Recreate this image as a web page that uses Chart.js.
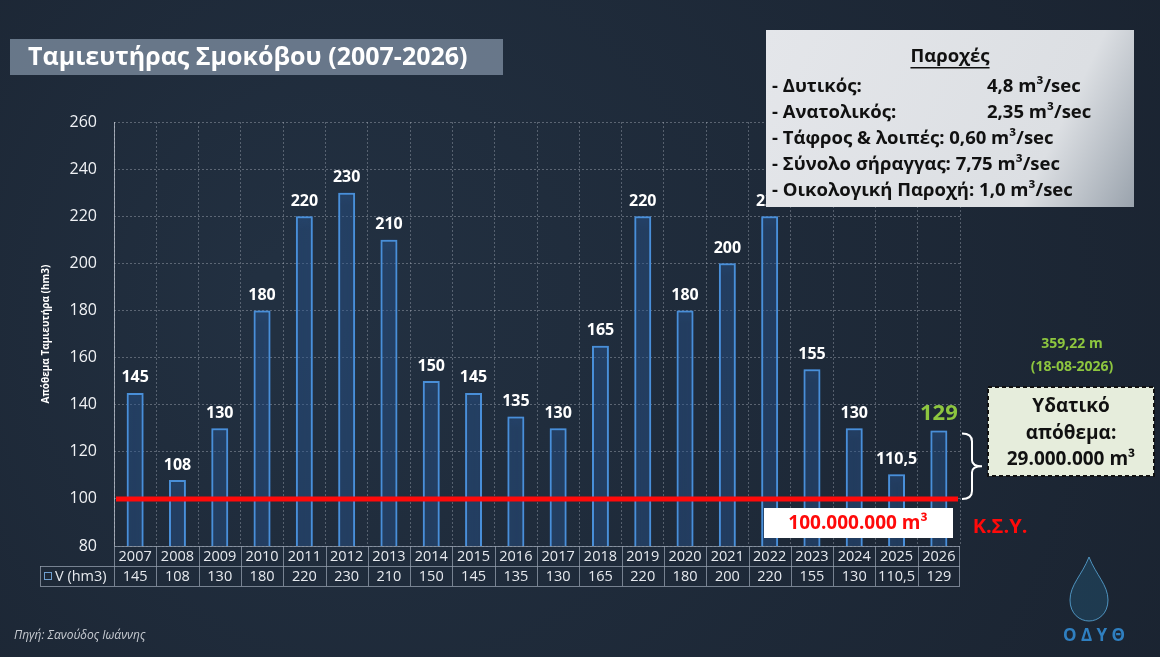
<!DOCTYPE html>
<html>
<head>
<meta charset="utf-8">
<script src="https://cdn.jsdelivr.net/npm/chart.js@4"></script>
<style>
  html, body { margin: 0; padding: 0; background: #1d2734; }
  #wrap { width: 1160px; height: 657px; position: relative; }
</style>
</head>
<body>
<div id="wrap"><canvas id="chart" width="1160" height="657"></canvas></div>
<script>
// data
const years = ["2007","2008","2009","2010","2011","2012","2013","2014","2015","2016",
  "2017","2018","2019","2020","2021","2022","2023","2024","2025","2026"];
const volumes = [145,108,130,180,220,230,210,150,145,135,130,165,220,180,200,220,155,130,110.5,129];
const volumeLabels = ["145","108","130","180","220","230","210","150","145","135",
  "130","165","220","180","200","220","155","130","110,5","129"];
const yTicks = [80,100,120,140,160,180,200,220,240,260];
const limitValue = 100;
const seriesName = "V (hm3)";
const chartTitle = "Ταμιευτήρας Σμοκόβου (2007-2026)";
const yTitle = "Απόθεμα Ταμιευτήρα (hm3)";
const flowHeader = "Παροχές";
const flowNames = ["- Δυτικός:", "- Ανατολικός:", "- Τάφρος & λοιπές:", "- Σύνολο σήραγγας:", "- Οικολογική Παροχή:"];
const flowValues = ["4,8 m³/sec", "2,35 m³/sec", "0,60 m³/sec", "7,75 m³/sec", "1,0 m³/sec"];

const FONT = "'Open Sans', 'DejaVu Sans', sans-serif";

// background, title bar
const backdrop = {
  id: "backdrop",
  beforeDraw(chart) {
    const ctx = chart.ctx;
    ctx.save();
    const g = ctx.createRadialGradient(300, 300, 50, 500, 330, 800);
    g.addColorStop(0, "#223041");
    g.addColorStop(1, "#1a2330");
    ctx.fillStyle = g;
    ctx.fillRect(0, 0, chart.width, chart.height);

    ctx.fillStyle = "rgba(112,127,146,0.9)";
    ctx.fillRect(10, 39, 493, 36);
    ctx.fillStyle = "#ffffff";
    ctx.font = "bold 25px " + FONT;
    ctx.textBaseline = "middle";
    ctx.fillText(chartTitle, 28, 58);
    ctx.restore();
  }
};

// bar glow
const glow = {
  id: "glow",
  beforeDatasetsDraw(chart) {
    chart.ctx.save();
    chart.ctx.shadowColor = "rgba(70,150,255,0.9)";
    chart.ctx.shadowBlur = 8;
  },
  afterDatasetsDraw(chart) {
    chart.ctx.restore();
  }
};

const overlay = {
  id: "overlay",
  afterDraw(chart) {
    const ctx = chart.ctx;
    const x = chart.scales.x, y = chart.scales.y, area = chart.chartArea;
    const meta = chart.getDatasetMeta(0);
    ctx.save();

    // left axis line
    ctx.strokeStyle = "rgba(200,205,215,0.7)";
    ctx.lineWidth = 1;
    ctx.beginPath();
    ctx.moveTo(area.left + 0.5, area.top);
    ctx.lineTo(area.left + 0.5, area.bottom);
    ctx.stroke();

    // y title
    ctx.save();
    ctx.translate(46, (area.top + area.bottom) / 2);
    ctx.rotate(-Math.PI / 2);
    ctx.fillStyle = "#ffffff";
    ctx.font = "bold 10px " + FONT;
    ctx.textAlign = "center";
    ctx.textBaseline = "middle";
    ctx.fillText(yTitle, 0, 0);
    ctx.restore();

    // limit line
    const yl = y.getPixelForValue(limitValue);
    ctx.strokeStyle = "#ff0a0a";
    ctx.lineWidth = 5;
    ctx.beginPath();
    ctx.moveTo(area.left + 2, yl);
    ctx.lineTo(area.right - 2, yl);
    ctx.stroke();

    // value labels
    ctx.textAlign = "center";
    ctx.textBaseline = "bottom";
    meta.data.forEach((bar, i) => {
      const last = i === meta.data.length - 1;
      ctx.fillStyle = last ? "#8dc63f" : "#ffffff";
      ctx.font = "bold " + (last ? 22 : 16) + "px " + FONT;
      ctx.fillText(volumeLabels[i], bar.x, bar.y - (last ? 6 : 7));
    });

    // data table
    const rowH = 20, t0 = area.bottom, tl = 40;
    const step = x.getPixelForValue(1) - x.getPixelForValue(0);
    ctx.strokeStyle = "rgba(150,160,175,0.75)";
    ctx.lineWidth = 1;
    ctx.beginPath();
    ctx.moveTo(area.left, t0 + 0.5); ctx.lineTo(area.right, t0 + 0.5);
    ctx.moveTo(tl, t0 + rowH + 0.5); ctx.lineTo(area.right, t0 + rowH + 0.5);
    ctx.moveTo(tl, t0 + 2 * rowH + 0.5); ctx.lineTo(area.right, t0 + 2 * rowH + 0.5);
    ctx.moveTo(tl + 0.5, t0 + rowH); ctx.lineTo(tl + 0.5, t0 + 2 * rowH);
    years.forEach((yr, i) => {
      const bx = Math.round(x.getPixelForValue(i) - step / 2) + 0.5;
      ctx.moveTo(bx, t0); ctx.lineTo(bx, t0 + 2 * rowH);
    });
    ctx.moveTo(area.right - 0.5, t0); ctx.lineTo(area.right - 0.5, t0 + 2 * rowH);
    ctx.stroke();

    ctx.fillStyle = "#e6e9ee";
    ctx.font = "14.5px " + FONT;
    ctx.textBaseline = "middle";
    years.forEach((yr, i) => {
      const cx = x.getPixelForValue(i);
      ctx.fillText(yr, cx, t0 + rowH / 2 + 1);
      ctx.fillText(volumeLabels[i], cx, t0 + rowH * 1.5 + 1);
    });
    ctx.textAlign = "left";
    ctx.fillText(seriesName, 55, t0 + rowH * 1.5 + 1);
    ctx.strokeStyle = "#6f9fd0";
    ctx.strokeRect(44.5, t0 + rowH + 6.5, 7, 7);

    // source
    ctx.font = "italic 12px " + FONT;
    ctx.fillStyle = "#c8ccd2";
    ctx.fillText("Πηγή: Σανούδος Ιωάννης", 14, 636);

    // flows box
    const bg = ctx.createLinearGradient(766, 30, 1134, 207);
    bg.addColorStop(0, "#e4e6ea");
    bg.addColorStop(0.75, "#dcdfe3");
    bg.addColorStop(1, "#9aa3ad");
    ctx.fillStyle = bg;
    ctx.fillRect(766, 30, 368, 177);
    ctx.fillStyle = "#111111";
    ctx.font = "bold 18.5px " + FONT;
    ctx.textAlign = "center";
    ctx.fillText(flowHeader, 950, 57);
    const hw = ctx.measureText(flowHeader).width;
    ctx.fillRect(950 - hw / 2, 67, hw, 1.5);
    ctx.textAlign = "left";
    flowNames.forEach((n, i) => {
      const yy = 87 + i * 26;
      if (i < 2) {
        ctx.fillText(n, 772, yy);
        ctx.fillText(flowValues[i], 987, yy);
      } else {
        ctx.fillText(n + " " + flowValues[i], 772, yy);
      }
    });

    // level annotation
    ctx.fillStyle = "#8dc63f";
    ctx.font = "bold 14px " + FONT;
    ctx.textAlign = "center";
    ctx.fillText("359,22 m", 1072, 344);
    ctx.fillText("(18-08-2026)", 1072, 367);

    // reserve box
    ctx.fillStyle = "#e6eddc";
    ctx.fillRect(988, 387, 166, 89);
    ctx.setLineDash([4, 3]);
    ctx.strokeStyle = "#111111";
    ctx.lineWidth = 2;
    ctx.strokeRect(988, 387, 166, 89);
    ctx.setLineDash([]);
    ctx.fillStyle = "#111111";
    ctx.font = "bold 19px " + FONT;
    ctx.fillText("Υδατικό", 1071, 407);
    ctx.fillText("απόθεμα:", 1071, 434);
    ctx.fillText("29.000.000 m³", 1071, 460);

    // brace between 2026 level and limit
    const yTop = y.getPixelForValue(volumes[volumes.length - 1]) + 3;
    const mid = (yTop + yl) / 2;
    ctx.strokeStyle = "#ffffff";
    ctx.lineWidth = 2;
    ctx.beginPath();
    ctx.moveTo(962, yTop);
    ctx.quadraticCurveTo(972, yTop, 972, yTop + 8);
    ctx.lineTo(972, mid - 6);
    ctx.quadraticCurveTo(972, mid, 982, mid);
    ctx.quadraticCurveTo(972, mid, 972, mid + 6);
    ctx.lineTo(972, yl - 8);
    ctx.quadraticCurveTo(972, yl, 962, yl);
    ctx.stroke();

    // limit label
    ctx.fillStyle = "#ffffff";
    ctx.fillRect(764, 508, 189, 30);
    ctx.fillStyle = "#ff0a0a";
    ctx.font = "bold 19px " + FONT;
    ctx.fillText("100.000.000 m³", 858, 524);
    ctx.font = "bold 20px " + FONT;
    ctx.fillText("Κ.Σ.Υ.", 1000, 527);

    // logo
    ctx.strokeStyle = "rgba(90,170,220,0.8)";
    ctx.fillStyle = "rgba(40,110,150,0.3)";
    ctx.lineWidth = 1;
    ctx.beginPath();
    ctx.moveTo(1089, 557);
    ctx.bezierCurveTo(1082, 575, 1070, 585, 1070, 600);
    ctx.bezierCurveTo(1070, 614, 1080, 621, 1089, 621);
    ctx.bezierCurveTo(1098, 621, 1108, 614, 1108, 600);
    ctx.bezierCurveTo(1108, 585, 1096, 575, 1089, 557);
    ctx.fill();
    ctx.stroke();
    ctx.fillStyle = "#2f7fc0";
    ctx.font = "bold 17px " + FONT;
    ctx.fillText("Ο Δ Υ Θ", 1094, 636);

    ctx.restore();
  }
};

new Chart(document.getElementById("chart"), {
  type: "bar",
  data: {
    labels: years,
    datasets: [{
      label: seriesName,
      data: volumes,
      backgroundColor: "rgba(20,35,55,0.25)",
      borderColor: "#4a8fd6",
      borderWidth: 2,
      borderSkipped: false,
      barPercentage: 0.4,
      categoryPercentage: 1
    }]
  },
  options: {
    responsive: false,
    animation: false,
    events: [],
    layout: { padding: { top: 122, right: 200, bottom: 111, left: 0 } },
    plugins: { legend: { display: false }, tooltip: { enabled: false } },
    scales: {
      x: {
        offset: true,
        grid: { offset: true, color: "rgba(190,195,205,0.35)", drawTicks: false },
        border: { display: false, dash: [2, 2] },
        ticks: { display: false }
      },
      y: {
        min: 80,
        max: 260,
        afterFit(s) { s.width = 114; },
        afterBuildTicks(s) { s.ticks = yTicks.map(v => ({ value: v })); },
        grid: { color: "rgba(190,195,205,0.38)", drawTicks: false },
        border: { display: false, dash: [2, 2] },
        ticks: { color: "#f0f2f5", font: { size: 16, family: FONT }, padding: 17 }
      }
    }
  },
  plugins: [backdrop, glow, overlay]
});
</script>
</body>
</html>
